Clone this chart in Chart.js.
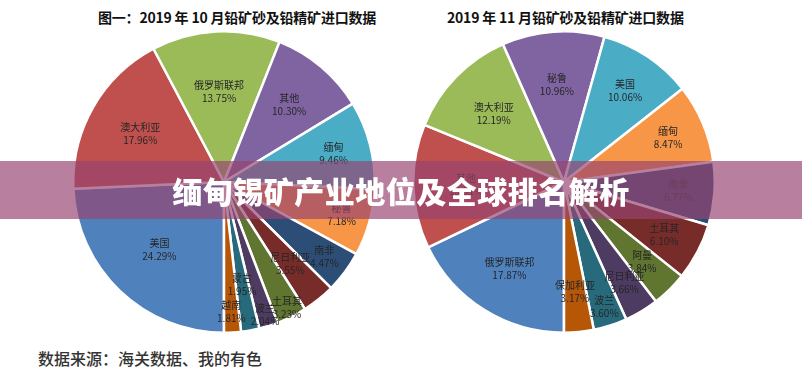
<!DOCTYPE html>
<html><head><meta charset="utf-8">
<script src="https://cdn.jsdelivr.net/npm/chart.js@4/dist/chart.umd.min.js"></script>
<style>
html,body{margin:0;padding:0;background:#fff;}
body{width:802px;height:381px;position:relative;overflow:hidden;font-family:"Noto Sans CJK SC","Noto Sans",sans-serif;}
.ttl{position:absolute;top:7px;font-size:14px;font-weight:bold;color:#111;white-space:nowrap;font-family:"Noto Sans CJK SC",sans-serif;letter-spacing:-0.2px;}
.cw{position:absolute;top:30px;width:304px;height:304px;}
#banner{position:absolute;left:0;top:161px;width:802px;height:58px;background:rgba(150,68,112,0.68);z-index:5;}
#bannerText{position:absolute;left:0;top:161px;width:802px;height:58px;line-height:58px;text-align:center;color:#fff;font-size:30px;font-weight:900;z-index:6;letter-spacing:0.5px;}
#footer{position:absolute;left:38px;top:346px;font-size:16px;font-weight:500;color:#333;white-space:nowrap;}
</style></head>
<body>
<div class="ttl" style="left:98px;">图一：2019 年 10 月铅矿砂及铅精矿进口数据</div>
<div class="ttl" style="left:447px;">2019 年 11 月铅矿砂及铅精矿进口数据</div>
<div class="cw" style="left:72px;"><canvas id="c1" width="304" height="304"></canvas></div>
<div class="cw" style="left:412px;"><canvas id="c2" width="304" height="304"></canvas></div>
<div id="banner"></div>
<div id="bannerText">缅甸锡矿产业地位及全球排名解析</div>
<div id="footer">数据来源：海关数据、我的有色</div>
<script>
// ---- data ----
const octCategories = ['美国','澳大利亚','俄罗斯联邦','其他','缅甸','秘鲁','南非','尼日利亚','土耳其','波兰','蒙古','越南'];
const octValues = [24.29,17.96,13.75,10.30,9.46,7.18,4.47,3.55,3.23,2.04,1.95,1.81];
const novCategories = ['俄罗斯联邦','其他','澳大利亚','秘鲁','美国','缅甸','南非','土耳其','阿曼','尼日利亚','波兰','保加利亚'];
const novValues = [17.87,13.31,12.19,10.96,10.06,8.47,6.77,6.10,3.84,3.66,3.60,3.17];

// ---- styles ----
const palette = ['#4f81bd','#c0504d','#9bbb59','#8064a2','#4bacc6','#f79646','#2c4d75','#772c2a','#5f7530','#4d3b62','#276a7c','#b65708'];
const octLabelRadius = [0.62,0.64,0.60,0.67,0.75,0.81,0.83,0.70,0.93,0.92,0.69,0.86];
const novLabelRadius = [0.68,0.65,0.65,0.65,0.73,0.75,0.76,0.75,0.74,0.78,0.87,0.73];

const sliceLabels = {
  id:'sliceLabels',
  afterDatasetsDraw(chart, args, opts){
    const ctx = chart.ctx;
    const meta = chart.getDatasetMeta(0);
    const labels = chart.data.labels;
    const vals = chart.data.datasets[0].data;
    ctx.save();
    ctx.fillStyle = '#262626';
    ctx.textAlign = 'center';
    ctx.textBaseline = 'middle';
    ctx.font = '10px "Noto Sans CJK SC", sans-serif';
    meta.data.forEach((arc, i) => {
      const p = arc.getProps(['x','y','startAngle','endAngle','outerRadius'], true);
      const mid = (p.startAngle + p.endAngle) / 2;
      const r = p.outerRadius * opts.radius[i];
      const x = p.x + Math.cos(mid) * r;
      const y = p.y + Math.sin(mid) * r;
      ctx.fillText(labels[i], x, y - 6.5);
      ctx.fillText(vals[i].toFixed(2) + '%', x, y + 6.5);
    });
    ctx.restore();
  }
};

function makePie(id, cats, vals, radius){
  return new Chart(document.getElementById(id), {
    type:'pie',
    data:{ labels:cats, datasets:[{ data:vals, backgroundColor:palette, borderColor:'#ffffff', borderWidth:2.5, hoverOffset:0 }] },
    options:{
      responsive:false, animation:false, rotation:180,
      layout:{padding:0},
      plugins:{ legend:{display:false}, tooltip:{enabled:false}, title:{display:false}, sliceLabels:{radius:radius} }
    },
    plugins:[sliceLabels]
  });
}
makePie('c1', octCategories, octValues, octLabelRadius);
makePie('c2', novCategories, novValues, novLabelRadius);
</script>
</body></html>
